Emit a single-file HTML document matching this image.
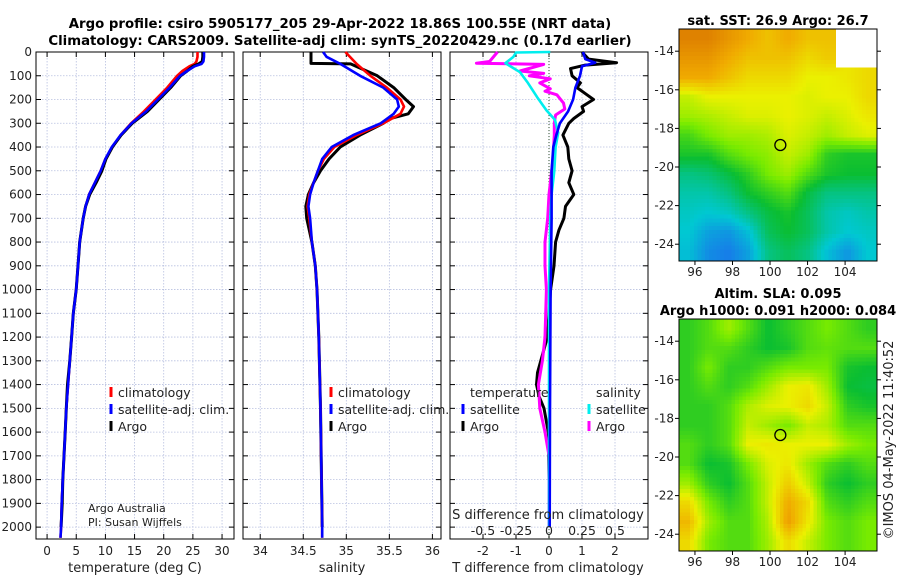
<!DOCTYPE html>
<html><head><meta charset="utf-8"><style>
html,body{margin:0;padding:0;background:#fff;width:900px;height:580px;overflow:hidden}
svg{position:absolute;left:0;top:0;font-family:"DejaVu Sans","Liberation Sans",sans-serif}
canvas{position:absolute;image-rendering:pixelated}
</style></head><body>
<canvas id="sst" width="53" height="60" style="left:679px;top:29px;width:198px;height:232px"></canvas>
<canvas id="sla" width="53" height="60" style="left:679px;top:319px;width:198px;height:232px"></canvas>
<svg id="chart" width="900" height="580"></svg>
<script>
// ---- data ----
const depthTicks=[0,100,200,300,400,500,600,700,800,900,1000,1100,1200,1300,1400,1500,1600,1700,1800,1900,2000];
const tempTicks=[0,5,10,15,20,25,30];
const salTicks=[34,34.5,35,35.5,36];
const tdiffTicks=[-2,-1,0,1,2];
const sdiffTicks=[-0.5,-0.25,0,0.25,0.5];
const climDepths=[0,20,40,50,60,80,100,150,200,250,300,350,400,450,500,550,600,650,700,800,900,1000,1100,1200,1300,1400,1500,1600,1700,1800,1900,2000,2045];
const climT=[25.8,25.8,25.6,25.3,24.4,23.2,22.3,20.6,18.6,16.6,14.4,12.6,11.2,10.0,9.2,8.2,7.2,6.6,6.2,5.6,5.3,5.0,4.5,4.2,3.9,3.6,3.3,3.1,2.9,2.7,2.5,2.4,2.3];
const satT=[26.9,26.9,26.8,26.5,25.3,24.0,22.8,21.0,19.0,17.0,14.5,12.6,11.1,10.0,9.2,8.2,7.2,6.6,6.2,5.6,5.3,5.0,4.5,4.2,3.9,3.6,3.3,3.1,2.9,2.7,2.5,2.4,2.3];
const argoDepths=[0,20,40,50,60,80,100,150,200,250,300,350,400,450,500,550,600,650,700,800,900,1000,1100,1200,1300,1400,1500,1600,1700,1800,1900,2000];
const argoT=[26.7,26.7,26.6,26.0,25.0,24.0,22.9,21.2,19.2,17.2,14.6,12.7,11.2,10.1,9.4,8.4,7.3,6.6,6.2,5.6,5.3,5.0,4.5,4.2,3.9,3.5,3.3,3.1,2.9,2.7,2.6,2.4];
const climSDepths=[0,50,100,150,200,230,260,300,350,400,450,500,550,600,650,700,800,900,1000,1200,1500,2000,2045];
const climS=[34.99,35.12,35.28,35.47,35.63,35.67,35.63,35.43,35.12,34.86,34.74,34.67,34.62,34.57,34.55,34.57,34.60,34.64,34.66,34.68,34.70,34.72,34.72];
const satSDepths=[0,20,50,100,150,200,230,260,300,350,400,450,500,550,600,650,700,800,900,1000,1200,1500,2000,2045];
const satS=[34.73,34.77,34.93,35.16,35.43,35.59,35.61,35.55,35.40,35.08,34.83,34.72,34.67,34.62,34.58,34.56,34.58,34.60,34.64,34.66,34.68,34.70,34.72,34.72];
const argoSDepths=[0,48,50,100,150,200,230,260,280,300,350,400,450,500,550,600,650,700,750,800,850,900,1000,1200,1500,2000];
const argoS=[34.59,34.59,35.05,35.36,35.55,35.69,35.78,35.72,35.51,35.43,35.16,34.93,34.80,34.70,34.62,34.56,34.53,34.54,34.57,34.60,34.62,34.64,34.66,34.68,34.70,34.72];
const tdArgoDepths=[0,30,45,55,70,100,130,150,180,200,230,250,280,300,350,400,450,500,550,600,650,700,750,800,900,1000,1100,1200,1300,1350,1400,1450,1500,1600,1800,2000];
const tdArgo=[1.0,1.2,2.05,1.1,0.65,0.7,0.95,0.85,1.15,1.35,1.0,1.05,0.75,0.6,0.42,0.57,0.6,0.7,0.6,0.75,0.5,0.45,0.3,0.2,0.15,0.05,0.0,-0.05,-0.25,-0.35,-0.38,-0.3,-0.15,-0.02,0.0,0.0];
const tdSatDepths=[0,30,45,60,100,150,200,250,300,350,400,500,700,1000,1500,2000];
const tdSat=[1.03,1.1,1.4,1.0,0.94,0.8,0.73,0.58,0.33,0.22,0.13,0.08,0.08,0.05,0.03,0.02];
const sdSatDepths=[0,2,20,47,85,130,190,245,285,340,400,500,600,700,1000,1500,2000];
const sdSat=[0.01,-0.25,-0.27,-0.33,-0.22,-0.16,-0.09,-0.02,0.045,0.07,0.05,0.04,0.02,0.01,0.0,0.0,0.0];
const sdArgoDepths=[0,40,47,52,80,90,100,113,130,155,165,180,215,240,265,300,350,450,600,700,800,900,1000,1200,1300,1400,1500,1600,1700,2000];
const sdArgo=[-0.39,-0.45,-0.55,-0.04,-0.22,-0.04,-0.15,0.01,-0.07,0.01,-0.03,0.06,0.11,0.12,0.05,0.04,0.04,0.03,0.0,-0.01,-0.03,-0.03,-0.02,-0.03,-0.05,-0.08,-0.07,-0.03,0.0,0.0];
const lonTicks=[96,98,100,102,104];
const latTicks=[-14,-16,-18,-20,-22,-24];
const argoLon=100.55, argoLat=-18.86;
const sstGrid=[
[.95,.95,.9,.85,.8,.85,.8,.8,null,null],
[.9,.9,.85,.8,.8,.8,.75,.78,null,null],
[.85,.85,.8,.75,.75,.75,.7,.7,.72,.75],
[.65,.7,.7,.7,.7,.7,.68,.7,.7,.75],
[.6,.62,.65,.68,.68,.7,.68,.65,.68,.72],
[.48,.55,.6,.6,.62,.68,.65,.6,.65,.68],
[.42,.42,.5,.55,.58,.65,.6,.45,.42,.42],
[.3,.32,.38,.45,.55,.6,.5,.42,.4,.4],
[.25,.25,.3,.4,.45,.5,.38,.3,.3,.3],
[.22,.2,.22,.3,.38,.42,.35,.25,.22,.25],
[.2,.12,.1,.18,.35,.4,.35,.25,.2,.22],
[.18,.08,.05,.12,.3,.35,.3,.18,.1,.2]];
const slaGrid=[
[.45,.5,.6,.5,.4,.45,.5,.55,.5,.45],
[.45,.5,.5,.45,.4,.42,.5,.52,.5,.5],
[.45,.55,.45,.45,.5,.55,.55,.55,.42,.4],
[.45,.5,.45,.5,.6,.7,.72,.6,.4,.38],
[.45,.45,.5,.62,.68,.7,.75,.65,.45,.42],
[.45,.45,.5,.65,.6,.55,.65,.62,.5,.5],
[.5,.45,.5,.7,.72,.7,.7,.7,.6,.55],
[.5,.4,.42,.55,.68,.72,.6,.5,.45,.5],
[.6,.45,.4,.5,.65,.78,.65,.45,.4,.45],
[.75,.55,.45,.5,.65,.85,.75,.5,.45,.5],
[.82,.6,.5,.5,.62,.88,.72,.55,.5,.55],
[.75,.55,.5,.5,.6,.75,.65,.55,.5,.55]];

// ---- helpers ----
const NS="http://www.w3.org/2000/svg";
const svg=document.getElementById('chart');
function mk(tag,attrs,parent){const e=document.createElementNS(NS,tag);for(const k in attrs)e.setAttribute(k,attrs[k]);(parent||svg).appendChild(e);return e;}
function txt(x,y,s,o){const e=mk('text',Object.assign({x:x,y:y,'font-size':12,fill:'#222'},o||{}));e.textContent=s;return e;}
const Y0=52,Y1=539,DMAX=2050;
const yD=d=>Y0+(d/DMAX)*(Y1-Y0);
function lin(d0,d1,p0,p1){return v=>p0+(v-d0)/(d1-d0)*(p1-p0);}
const xT=lin(-1.9,32.05,36,234);
const xS=lin(33.8,36.1,243,441);
const xTD=lin(-3,3,450,648);
const xSD=v=>549+v*132;

function panel(x0,x1,xs,ticks,name,leftLabels){
  const g=mk('g',{});
  
  
  ticks.forEach(t=>{const x=xs(t);mk('line',{x1:x,x2:x,y1:Y0,y2:Y1,stroke:'#b8c0e0','stroke-width':0.8,'stroke-dasharray':'1.5,1.5'},g);});
  depthTicks.forEach(d=>{const y=yD(d);mk('line',{x1:x0,x2:x1,y1:y,y2:y,stroke:'#b8c0e0','stroke-width':0.8,'stroke-dasharray':'1.5,1.5'},g);
    mk('line',{x1:x0,x2:x0+5,y1:y,y2:y,stroke:'#000'},g);mk('line',{x1:x1-5,x2:x1,y1:y,y2:y,stroke:'#000'},g);
    if(leftLabels){const t=txt(x0-4,y+4,String(d),{'text-anchor':'end'});}});
  ticks.forEach(t=>{const x=xs(t);mk('line',{x1:x,x2:x,y1:Y1,y2:Y1-5,stroke:'#000'},g);mk('line',{x1:x,x2:x,y1:Y0,y2:Y0+5,stroke:'#000'},g);});
  mk('rect',{x:x0,y:Y0,width:x1-x0,height:Y1-Y0,fill:'none',stroke:'#000','stroke-width':1},g);
  return g;
}
function line(xs,vals,depths,color,name,w){
  const pts=vals.map((v,i)=>xs(v).toFixed(1)+','+yD(depths[i]).toFixed(1)).join(' ');
  const p=mk('polyline',{points:pts,fill:'none',stroke:color,'stroke-width':w||2.6,'stroke-linejoin':'round'});
  
  
  return p;
}
function legendItem(x,y,color,label,name){
  const g=mk('g',{});
  
  
  mk('rect',{x:x-1.5,y:y-10,width:3,height:10,fill:color},g);
  const t=txt(x+7,y,label,{'font-size':12.5});g.appendChild(t);
}

let t1=txt(340,28,'Argo profile: csiro 5905177_205 29-Apr-2022 18.86S 100.55E (NRT data)',{'font-size':13.3,'font-weight':'bold','text-anchor':'middle',fill:'#000'});

let t2=txt(340,45,'Climatology: CARS2009. Satellite-adj clim: synTS_20220429.nc (0.17d earlier)',{'font-size':13.3,'font-weight':'bold','text-anchor':'middle',fill:'#000'});


panel(36,234,xT,tempTicks,'temperature-panel',true);
line(xT,climT,climDepths,'#ff0000','temp-climatology-line');
line(xT,argoT,argoDepths,'#000000','temp-argo-line',3);
line(xT,satT,climDepths,'#0000ff','temp-satellite-line');
tempTicks.forEach(t=>{const e=txt(xT(t),555,String(t),{'text-anchor':'middle'});});
let a1=txt(135,572,'temperature (deg C)',{'font-size':13,'text-anchor':'middle'});
legendItem(111,397,'#ff0000','climatology','legend-climatology');
legendItem(111,414,'#0000ff','satellite-adj. clim.','legend-satellite-adj');
legendItem(111,431,'#000000','Argo','legend-argo');
let c1=txt(88,512,'Argo Australia',{'font-size':11});
let c2=txt(88,526,'PI: Susan Wijffels',{'font-size':11});

panel(243,441,xS,salTicks,'salinity-panel',false);
line(xS,argoS,argoSDepths,'#000000','sal-argo-line',3);
line(xS,climS,climSDepths,'#ff0000','sal-climatology-line');
line(xS,satS,satSDepths,'#0000ff','sal-satellite-line');
salTicks.forEach(t=>{const e=txt(xS(t),555,String(t),{'text-anchor':'middle'});});
let a2=txt(342,572,'salinity',{'font-size':13,'text-anchor':'middle'});
legendItem(331,397,'#ff0000','climatology','legend-climatology-2');
legendItem(331,414,'#0000ff','satellite-adj. clim.','legend-satellite-adj-2');
legendItem(331,431,'#000000','Argo','legend-argo-2');

panel(450,648,xTD,tdiffTicks,'difference-panel',false);
let zl=mk('line',{x1:549,x2:549,y1:Y0,y2:Y1,stroke:'#305030','stroke-width':1,'stroke-dasharray':'1,2'});

line(xTD,tdArgo,tdArgoDepths,'#000000','tdiff-argo-line',3);
line(xSD,sdArgo,sdArgoDepths,'#ff00ff','sdiff-argo-line',3);
line(xSD,sdSat,sdSatDepths,'#00eeee','sdiff-satellite-line');
line(xTD,tdSat,tdSatDepths,'#0000ff','tdiff-satellite-line');
tdiffTicks.forEach(t=>{const e=txt(xTD(t),555,String(t),{'text-anchor':'middle'});});
sdiffTicks.forEach(t=>{const e=txt(xSD(t),535,String(t),{'text-anchor':'middle','font-size':12.5});});
let a3=txt(548,572,'T difference from climatology',{'font-size':13,'text-anchor':'middle'});
let a4=txt(548,519,'S difference from climatology',{'font-size':13,'text-anchor':'middle'});
let lt=txt(470,397,'temperature',{'font-size':12.5});
legendItem(463,414,'#0000ff','satellite','legend-tdiff-satellite');
legendItem(463,431,'#000000','Argo','legend-tdiff-argo');
let ls=txt(596,397,'salinity',{'font-size':12.5});
legendItem(589,414,'#00eeee','satellite','legend-sdiff-satellite');
legendItem(589,431,'#ff00ff','Argo','legend-sdiff-argo');

const LON0=95.15,LON1=105.7,LAT0=-12.85,LAT1=-24.87;
const cmapStops=[[0,[30,100,240]],[0.2,[0,200,210]],[0.4,[10,190,50]],[0.55,[120,235,0]],[0.7,[235,240,0]],[0.85,[240,170,0]],[1,[215,110,0]]];
function cmap(v){for(let i=1;i<cmapStops.length;i++){if(v<=cmapStops[i][0]){const a=cmapStops[i-1],b=cmapStops[i];const f=(v-a[0])/(b[0]-a[0]);return a[1].map((c,k)=>Math.round(c+(b[1][k]-c)*f));}}return cmapStops[cmapStops.length-1][1];}
function drawMap(id,grid){
  const cv=document.getElementById(id),ctx=cv.getContext('2d');
  const W=cv.width,H=cv.height,R=grid.length,C=grid[0].length;
  const img=ctx.createImageData(W,H);
  for(let j=0;j<H;j++)for(let i=0;i<W;i++){
    const gx=Math.min(Math.max((i+0.5)/W*C-0.5,0),C-1),gy=Math.min(Math.max((j+0.5)/H*R-0.5,0),R-1);
    const x0=Math.floor(gx),y0=Math.floor(gy),x1=Math.min(x0+1,C-1),y1=Math.min(y0+1,R-1),fx=gx-x0,fy=gy-y0;
    const nn=grid[Math.round(gy)][Math.round(gx)];
    const o=(j*W+i)*4;
    if(nn===null){img.data[o]=255;img.data[o+1]=255;img.data[o+2]=255;img.data[o+3]=255;continue;}
    let s=0,w=0;[[x0,y0,(1-fx)*(1-fy)],[x1,y0,fx*(1-fy)],[x0,y1,(1-fx)*fy],[x1,y1,fx*fy]].forEach(p=>{const v=grid[p[1]][p[0]];if(v!==null){s+=v*p[2];w+=p[2];}});
    const c=cmap(s/w);img.data[o]=c[0];img.data[o+1]=c[1];img.data[o+2]=c[2];img.data[o+3]=255;}
  ctx.putImageData(img,0,0);
}
drawMap('sst',sstGrid);drawMap('sla',slaGrid);
function mapAxes(top,name,titleLines){
  const g=mk('g',{});
  
  
  const L=679,Rr=877,T=top,B=top+232;
  const xm=lin(LON0,LON1,L,Rr),ym=lin(LAT0,LAT1,T,B);
  mk('rect',{x:L,y:T,width:Rr-L,height:B-T,fill:'none',stroke:'#000'},g);
  lonTicks.forEach(v=>{const x=xm(v);mk('line',{x1:x,x2:x,y1:B,y2:B+4,stroke:'#000'},g);const e=txt(x,B+15,String(v),{'text-anchor':'middle'});g.appendChild(e);});
  latTicks.forEach(v=>{const y=ym(v);mk('line',{x1:L-4,x2:L,y1:y,y2:y,stroke:'#000'},g);mk('line',{x1:Rr,x2:Rr+4,y1:y,y2:y,stroke:'#000'},g);const e=txt(L-5,y+4,String(v),{'text-anchor':'end'});g.appendChild(e);});
  const c=mk('circle',{cx:xm(argoLon),cy:ym(argoLat),r:5.5,fill:'none',stroke:'#000','stroke-width':1.3},g);
  
  
  titleLines.forEach((s,k)=>{const e=txt(778,top-titleLines.length*17+13+k*17,s,{'font-size':13,'font-weight':'bold','text-anchor':'middle',fill:'#000'});});
}
mapAxes(29,'sst-map-axes',['sat. SST: 26.9 Argo: 26.7']);
mapAxes(319,'sla-map-axes',['Altim. SLA: 0.095','Argo h1000: 0.091 h2000: 0.084']);
let cr=txt(0,0,'©IMOS 04-May-2022 11:40:52',{'font-size':13,'text-anchor':'middle',transform:'translate(893,440) rotate(-90)'});

</script>
</body></html>
